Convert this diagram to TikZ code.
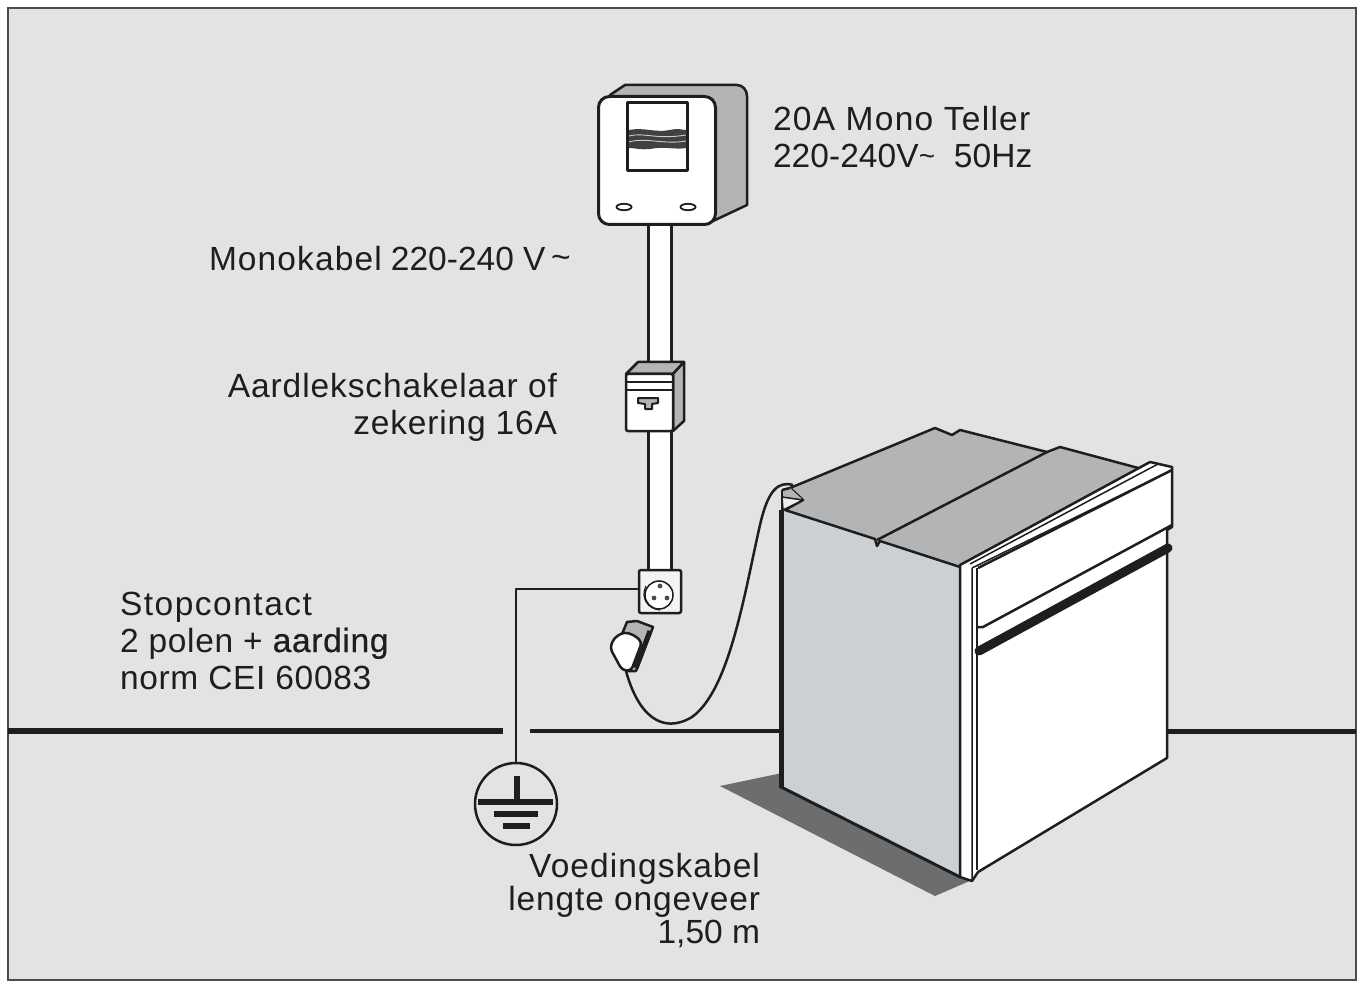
\documentclass[tikz,border=0pt]{standalone}
\usepackage{fontspec}
\setmainfont{Liberation Sans}
\definecolor{bgc}{HTML}{E2E3E5}
\definecolor{ink}{HTML}{1E1E1E}
\definecolor{midg}{HTML}{B2B4B6}
\definecolor{sideg}{HTML}{CDD0D3}
\definecolor{shad}{HTML}{6C6D6F}
\newcommand{\ls}[2]{{\addfontfeature{LetterSpace=#1}#2}}
\tikzset{
 lbl/.style={font=\fontsize{33.5}{37}\selectfont,text=ink,inner sep=0pt,outer sep=0pt},
 edge/.style={draw=ink,line width=2.5pt,line join=round},
 thin edge/.style={draw=ink,line width=1.5pt,line join=round},
 wall/.style={draw=ink,line width=5pt},
 wire/.style={draw=ink,line width=2.5pt,line join=round},
 barl/.style={draw=ink,line width=5.5pt},
 symbolbox/.style={inner sep=0pt,outer sep=0pt,draw=ink,line width=2.5pt,fill=white}
}
\begin{document}
\begin{tikzpicture}[x=1pt,y=-1pt]
\useasboundingbox (0,0) rectangle (1357,981);
\fill[white] (0,0) rectangle (1357,981);
\draw[fill=bgc,draw=ink!80,line width=1.5pt] (8,8) rectangle (1356,980);
% floor line
\coordinate (wallL) at (8,731);
\coordinate (wallA) at (503,731);
\coordinate (wallB) at (530,731);
\coordinate (wallC) at (782,731);
\coordinate (wallD) at (1168,731);
\coordinate (wallR) at (1356,731);
\draw[wall,line width=6pt] (wallL)--(wallA);
\draw[wall,line width=4pt] (wallB)--(wallC);
\draw[wall] (wallD)--(wallR);
% cables
\fill[white] (648,222) rectangle (671,364);
\fill[white] (648,430) rectangle (671,572);
\draw[edge,line width=3pt] (648,222)--(648,364) (671,222)--(671,364) (648,430)--(648,572) (671,430)--(671,572);
% meter
\draw[edge,fill=midg] (610,95)--(625,85)--(737,85) to[out=0,in=90] (747,96)--(747,205)--(713,221)--(640,150)--cycle;
\node[symbolbox,line width=3pt,rounded corners=11pt,minimum width=117pt,minimum height=128pt,anchor=north west] (meter) at (598.5,96.5) {};
\draw[edge,line width=3pt,fill=white] (627,103) rectangle (687,171);
\fill[ink!85] (629,130) .. controls (645,127) and (655,133) .. (670,130) .. controls (678,128) and (683,130) .. (686,130) -- (686,148) .. controls (675,150) and (665,146) .. (650,149) .. controls (640,150) and (635,148) .. (629,148) -- cycle;
\draw[white!60!gray,line width=0.9pt] (629,136) .. controls (645,132) and (655,140) .. (686,135)
  (629,142) .. controls (645,137) and (665,145) .. (686,141);
\draw[ink,line width=1.8pt,fill=white] (624,207) ellipse (7.5 and 3.2) (688,207) ellipse (7.5 and 3.2);
% breaker
\draw[edge,fill=midg] (626,374)--(638,362)--(684,362)--(673,374)--cycle;
\draw[edge,fill=midg] (673,374)--(684,362)--(684,421)--(673,431)--cycle;
\node[symbolbox,rounded corners=2pt,minimum width=47pt,minimum height=57pt,anchor=north west] (breaker) at (626,374) {};
\draw[thin edge,line width=2pt] (626,382)--(673,382) (626,390)--(673,390);
\draw[ink,line width=2pt,line join=round,fill=midg] (638,398)--(658,398)--(658,403)--(652,404)--(652,409)--(645,409)--(645,404)--(638,403)--cycle;
% socket
\node[symbolbox,rounded corners=2pt,fill=bgc!40!white,minimum width=42pt,minimum height=43pt,anchor=north west] (socket) at (639,570) {};
\node[inner sep=0pt,outer sep=0pt,circle,draw=ink,line width=1.5pt,fill=white,minimum size=28pt] (socketface) at (659,595) {};
\draw[ink,line width=1.2pt] (646,586) .. controls (640,598) and (648,609) .. (660,610);
\fill[ink!80] (660,586) circle (2.4) (654,598) circle (2.4) (667,598) circle (2.4);
% earth
\node[circle,draw=ink,line width=2.5pt,fill=bgc,inner sep=0pt,minimum size=82pt] (earth) at (516,804) {};
\coordinate (bend) at (516,589);
\draw[wire] (socket.west |- bend)--(bend)--(earth.north);
\coordinate (gtop) at (516.5,776);
\coordinate (gbar) at (516.5,802);
\draw[ink,line width=6pt] (gtop)--(gbar);
\draw[barl] (478,802)--(553,802);
\draw[barl] (494,814)--(538,814);
\draw[barl] (503,826)--(530,826);
% oven shadow
\fill[shad] (720,786)--(782,773)--(972,880)--(935,896)--cycle;
% oven side
\fill[sideg] (782,510)--(960,567)--(960,877)--(782,787)--cycle;
% cable to oven
\coordinate (plugtail) at (626,671);
\coordinate (ovenin) at (793,485);
\draw[wire] (plugtail) .. controls (638,715) and (662,735) .. (692,717)
  .. controls (730,690) and (745,590) .. (760,525) .. controls (768,490) and (778,481) .. (ovenin);
% plug
\draw[edge,fill=midg] (622,634)--(627,622)--(637,621)--(653,627)--(636,671)--(628,671)--cycle;
\draw[ink,line width=5pt] (650,631)--(636,668);
\draw[edge,fill=white,rounded corners=4pt] (624,632)--(634,635)--(642,642)--(631,671)--(622,670)--(610,648)--(614,638)--cycle;
% oven top
\draw[edge,fill=midg] (790,488)--(935,428)--(952,435)--(960,430)--(1047,452)--(1060,447)--(1142,469)--(960,567)--(880,541)--(877,546)--(875,539)--(785,510)--(803,500)--cycle;
\fill[midg] (782,490)--(790,488)--(803,500)--(782,497)--cycle;
\draw[edge] (782,490)--(790,488);
\draw[thin edge,fill=sideg!40!white] (782,497)--(803,500)--(783,510)--cycle;
\draw[edge] (877,540)--(1047,452);
% oven left edge
\draw[ink,line width=2pt] (782,490)--(782,510);
\draw[ink,line width=5pt] (781.5,510)--(781.5,788);
\draw[ink,line width=3pt,line cap=round] (781,787)--(960,877);
% oven front
\draw[edge,fill=white] (960,565)--(1150,462)--(1172,467)--(1172,527)--(1167,530)--(1167,758)--(978,872)--(972,881)--(960,877)--cycle;
\draw[thin edge] (970,564)--(1158,464) (972,568)--(1172,470) (972,568)--(972,880);
\draw[edge] (978,568)--(1172,470);
\draw[edge] (977,568)--(977,870);
\draw[edge] (978,627)--(983,627)--(1172,525);
\draw[ink,line width=2.5pt] (1167,527)--(1167,758);
\draw[ink,line width=9pt,line cap=round] (979,651)--(1168,548);
% labels
\node[lbl,anchor=base west,align=left] (meterlabel) at (773,168) {\ls{3.8}{20A Mono Teller}\\\ls{0.2}{220-240V\raisebox{2pt}{\fontsize{28}{28}\selectfont\textasciitilde}\ \ 50Hz}};
\node[lbl,anchor=base west] (cablelabel) at (209,271) {\ls{3.3}{Monokabel} 220-240 V\raisebox{2pt}{\,\textasciitilde}};
\node[lbl,anchor=base east,align=right] (breakerlabel) at (557,434) {\ls{2.7}{Aardlekschakelaar of}\\\ls{2.4}{zekering 16A}};
\node[lbl,anchor=base west,align=left] (socketlabel) at (120,689) {\ls{4.5}{Stopcontact}\\\ls{2}{2 polen + {\addfontfeature{FakeBold=0.6}aarding}}\\\ls{2}{norm CEI 60083}};
\node[lbl,anchor=base east,align=right,font=\fontsize{33.5}{33}\selectfont] (supplylabel) at (760,943) {\ls{3.2}{Voedingskabel}\\\ls{2.6}{lengte ongeveer}\\1,50 m};
\end{tikzpicture}
\end{document}
